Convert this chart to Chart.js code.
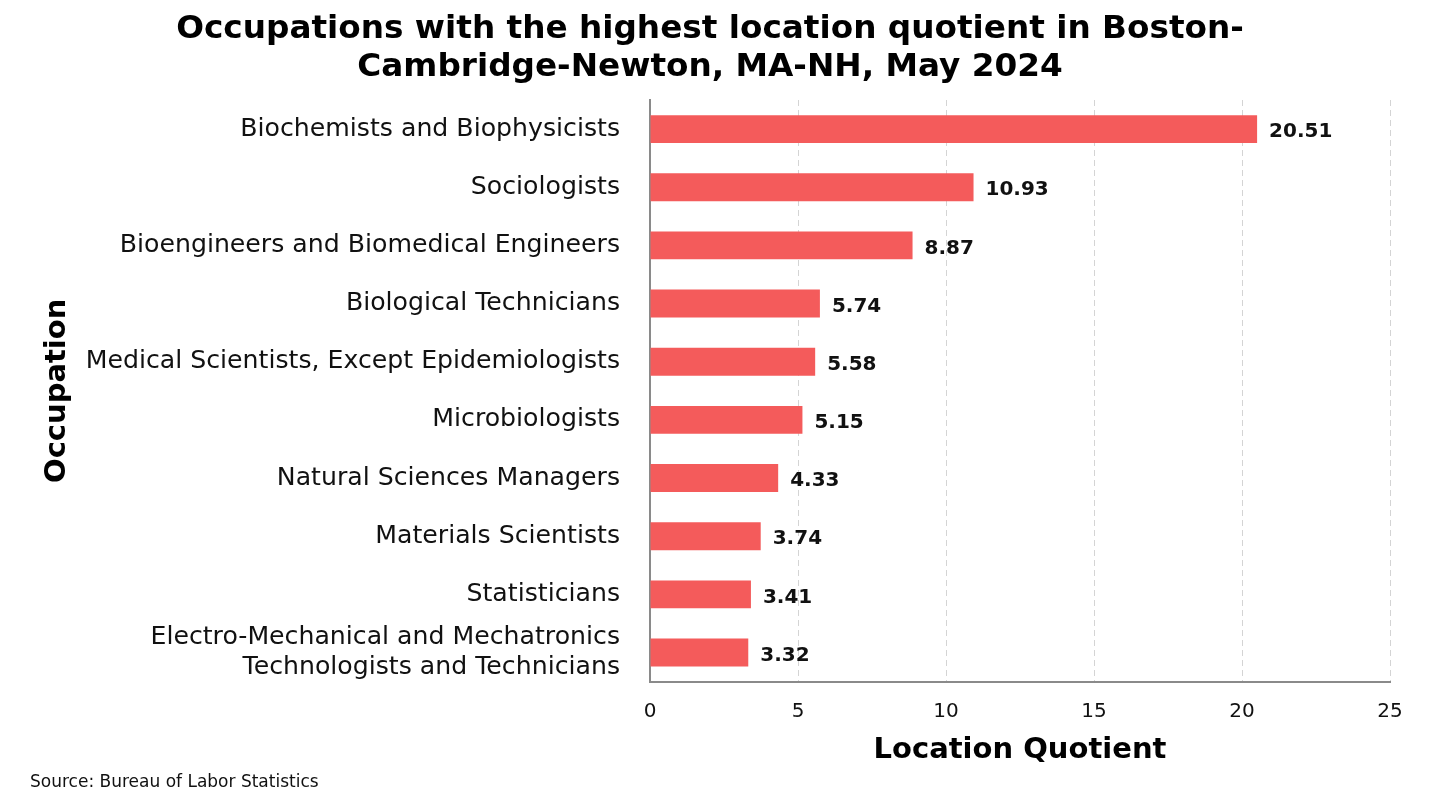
<!DOCTYPE html>
<html>
<head>
<meta charset="utf-8">
<script src="https://cdn.jsdelivr.net/npm/chart.js@4/dist/chart.umd.min.js"></script>
<style>
html,body{margin:0;padding:0;background:#fff;}
#wrap{width:1442px;height:800px;}
</style>
</head>
<body>
<div id="wrap"><canvas id="c" width="1442" height="800"></canvas></div>
<script>
const categories = [
  "Biochemists and Biophysicists",
  "Sociologists",
  "Bioengineers and Biomedical Engineers",
  "Biological Technicians",
  "Medical Scientists, Except Epidemiologists",
  "Microbiologists",
  "Natural Sciences Managers",
  "Materials Scientists",
  "Statisticians",
  ["Electro-Mechanical and Mechatronics", "Technologists and Technicians"]
];
const locationQuotient = [20.51, 10.93, 8.87, 5.74, 5.58, 5.15, 4.33, 3.74, 3.41, 3.32];
const titleLines = ["Occupations with the highest location quotient in Boston-", "Cambridge-Newton, MA-NH, May 2024"];
const sourceText = "Source: Bureau of Labor Statistics";
const xAxisTitle = "Location Quotient";
const yAxisTitle = "Occupation";

const FONT = "'DejaVu Sans', Verdana, sans-serif";

const valueLabels = {
  id: 'valueLabels',
  afterDatasetsDraw(chart) {
    const ctx = chart.ctx;
    const meta = chart.getDatasetMeta(0);
    ctx.save();
    ctx.font = "bold 20px " + FONT;
    ctx.fillStyle = "#111";
    ctx.textAlign = "left";
    ctx.textBaseline = "middle";
    meta.data.forEach((bar, i) => {
      ctx.fillText(locationQuotient[i].toFixed(2), bar.x + 12, bar.y + 3);
    });
    ctx.restore();
  }
};

new Chart(document.getElementById('c'), {
  type: 'bar',
  data: {
    labels: categories,
    datasets: [{
      data: locationQuotient,
      backgroundColor: '#f45b5b',
      borderWidth: 0,
      barPercentage: 0.48,
      categoryPercentage: 1.0
    }]
  },
  options: {
    indexAxis: 'y',
    responsive: false,
    animation: false,
    devicePixelRatio: 1,
    layout: { padding: { left: 30, right: 52, top: 0, bottom: 0 } },
    plugins: {
      legend: { display: false },
      tooltip: { enabled: false },
      title: {
        display: true,
        text: titleLines,
        color: '#000',
        font: { family: FONT, size: 32.7, weight: 'bold', lineHeight: 1.17 },
        padding: { top: 10, bottom: 13.5 }
      },
      subtitle: {
        display: true,
        text: sourceText,
        position: 'bottom',
        align: 'start',
        color: '#111',
        font: { family: FONT, size: 17, lineHeight: 1.2 },
        padding: { top: 0, bottom: 7 }
      }
    },
    scales: {
      x: {
        min: 0,
        max: 25,
        ticks: {
          stepSize: 5,
          color: '#111',
          font: { family: FONT, size: 20 },
          padding: 18
        },
        grid: {
          display: true,
          drawTicks: false,
          color: '#d4d4d4',
          lineWidth: 1
        },
        border: { display: true, color: '#8a8a8a', width: 2, dash: [6, 4] },
        title: {
          display: true,
          text: xAxisTitle,
          color: '#000',
          font: { family: FONT, size: 29, weight: 'bold', lineHeight: 1.2 },
          padding: { top: 0, bottom: 5 }
        },
        afterFit(scale) { scale.height = 91; }
      },
      y: {
        ticks: {
          autoSkip: false,
          color: '#111',
          font: { family: FONT, size: 25.2, lineHeight: 1.2 },
          padding: 30
        },
        grid: { display: false, drawTicks: false },
        border: { display: true, color: '#8a8a8a', width: 2 },
        title: {
          display: true,
          text: yAxisTitle,
          color: '#000',
          font: { family: FONT, size: 29, weight: 'bold', lineHeight: 1.2 },
          padding: { top: 10, bottom: 0 }
        },
        afterFit(scale) { scale.width = 620; }
      }
    }
  },
  plugins: [valueLabels]
});
</script>
</body>
</html>
